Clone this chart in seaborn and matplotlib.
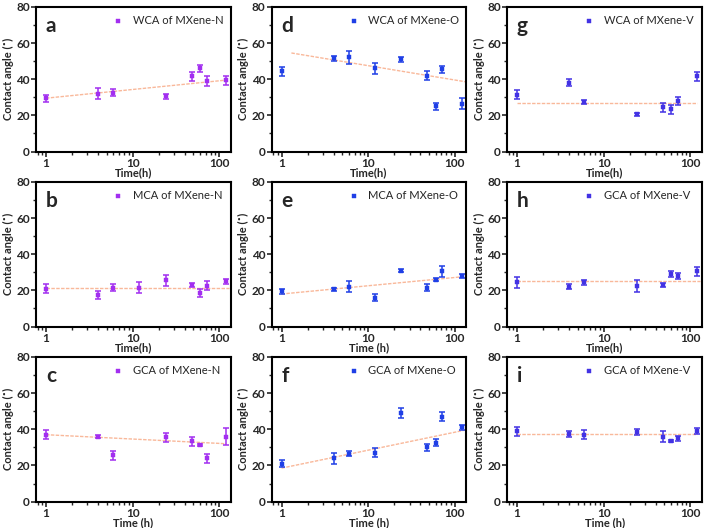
import numpy as np
import pandas as pd
import matplotlib
matplotlib.use("Agg")
import matplotlib.pyplot as plt
from matplotlib.ticker import MultipleLocator, LogLocator, NullFormatter, FixedLocator, FixedFormatter
import seaborn as sns

# -----------------------
# Data
# -----------------------
# time points in hours
t_all = [1, 4, 6, 12, 24, 48, 60, 72, 120]
t_no12 = [1, 4, 6, 24, 48, 60, 72, 120]

# MXene-N
wca_n = [29.5, 32, 32.5, 30.5, 41.5, 46, 39, 39.5]
wca_n_err = [2, 3, 2, 1.5, 2.5, 2, 3, 2.5]
mca_n = [21, 17.5, 21.5, 21.5, 25.5, 23, 18.5, 22.5, 25]
mca_n_err = [2.5, 2, 2, 3, 3, 1, 2, 2.5, 1.2]
gca_n = [37, 36, 25.5, 35.5, 33.5, 31.5, 24, 36]
gca_n_err = [2.5, 1, 2.5, 2.5, 2.5, 0.5, 2.5, 4.5]

# MXene-O
wca_o = [44.5, 51.5, 52, 46, 51, 42, 25, 45.5, 26.5]
wca_o_err = [2.5, 1.5, 3.5, 3, 1.5, 2.5, 2, 2, 3]
mca_o = [19.5, 20.5, 22, 16, 31, 21.5, 26, 30.5, 28]
mca_o_err = [1.5, 1, 3, 2, 1, 2, 1, 3, 1]
gca_o = [21, 24, 26.5, 27, 49, 30, 32.5, 47, 41]
gca_o_err = [2, 3, 1.5, 2.5, 2.5, 2, 2, 2.5, 1.5]

# MXene-V
wca_v = [31.5, 38, 27.5, 20.5, 24.5, 23.5, 28, 41.5]
wca_v_err = [2.5, 2, 1, 1, 2.5, 2.5, 2, 2.5]
gca_v1 = [24.5, 22, 24.5, 22.5, 23, 29, 28, 30.5]
gca_v1_err = [3, 1.5, 1.5, 3.5, 1, 1.5, 1.5, 2.5]
gca_v2 = [39, 37.5, 37, 38.5, 36, 33.5, 35, 39]
gca_v2_err = [2.5, 1.5, 2.5, 1.5, 3, 0.5, 1.5, 1.5]

# fitted trend lines (end points)
fit_a = ([1, 120], [29.5, 39.5])
fit_b = ([1, 130], [21.5, 21.5])
fit_c = ([1, 120], [37, 32])
fit_d = ([1.3, 136], [54.5, 38.5])
fit_e = ([1, 120], [18, 27.5])
fit_f = ([1, 130], [18.5, 39.5])
fit_g = ([1, 120], [27, 27])
fit_h = ([1, 130], [25, 25])
fit_i = ([1, 120], [37.5, 37.5])

c_n = "#A22EF0"
c_o = "#1F3FE6"
c_v = "#4232E4"
c_fit = "#F9B89A"

panels = [
    # letter, t, y, err, fit, label, color, xlabel
    ("a", t_no12, wca_n, wca_n_err, fit_a, "WCA of MXene-N", c_n, "Time(h)"),
    ("d", t_all, wca_o, wca_o_err, fit_d, "WCA of MXene-O", c_o, "Time(h)"),
    ("g", t_no12, wca_v, wca_v_err, fit_g, "WCA of MXene-V", c_v, "Time(h)"),
    ("b", t_all, mca_n, mca_n_err, fit_b, "MCA of MXene-N", c_n, "Time(h)"),
    ("e", t_all, mca_o, mca_o_err, fit_e, "MCA of MXene-O", c_o, "Time (h)"),
    ("h", t_no12, gca_v1, gca_v1_err, fit_h, "GCA of MXene-V", c_v, "Time(h)"),
    ("c", t_no12, gca_n, gca_n_err, fit_c, "GCA of MXene-N", c_n, "Time (h)"),
    ("f", t_all, gca_o, gca_o_err, fit_f, "GCA of MXene-O", c_o, "Time (h)"),
    ("i", t_no12, gca_v2, gca_v2_err, fit_i, "GCA of MXene-V", c_v, "Time (h)"),
]

# -----------------------
# Plot
# -----------------------
sns.set_theme(style="ticks")
plt.rcParams["font.family"] = ["Lato", "DejaVu Sans"]

fig, axes = plt.subplots(3, 3, figsize=(7.09, 5.28), dpi=100)
fig.subplots_adjust(left=0.051, right=0.990, top=0.987, bottom=0.05,
                    wspace=0.21, hspace=0.21)

for ax, (letter, t, y, err, fit, label, color, xlabel) in zip(axes.flatten(), panels):
    df = pd.DataFrame({"t": t, "y": y, "err": err})
    fdf = pd.DataFrame({"t": fit[0], "y": fit[1]})

    sns.lineplot(data=fdf, x="t", y="y", ax=ax, color=c_fit, lw=1.0,
                 linestyle=(0, (2.5, 1)), legend=False, zorder=1)
    ax.errorbar(df["t"], df["y"], yerr=df["err"], fmt="none", ecolor=color,
                elinewidth=1.1, capsize=2, capthick=1.1, zorder=2)
    sns.scatterplot(data=df, x="t", y="y", ax=ax, marker="s", s=9,
                    color=color, edgecolor=color, linewidth=0.3,
                    label=label, zorder=3)

    ax.set_xscale("log")
    ax.set_xlim(0.77, 136)
    ax.set_ylim(0, 80)
    ax.xaxis.set_major_locator(FixedLocator([1, 10, 100]))
    ax.xaxis.set_major_formatter(FixedFormatter(["1", "10", "100"]))
    ax.xaxis.set_minor_locator(LogLocator(base=10, subs=np.arange(2, 10)))
    ax.xaxis.set_minor_formatter(NullFormatter())
    ax.yaxis.set_major_locator(MultipleLocator(20))
    ax.yaxis.set_minor_locator(MultipleLocator(10))

    ax.tick_params(which="major", direction="out", length=3.5, width=1.2,
                   labelsize=8.5, pad=1)
    ax.tick_params(which="minor", direction="out", length=2, width=1.0)
    for lab in ax.get_xticklabels() + ax.get_yticklabels():
        lab.set_fontweight("bold")
    for sp in ax.spines.values():
        sp.set_linewidth(1.5)
        sp.set_color("black")

    ax.set_xlabel(xlabel, fontsize=8, fontweight="bold", labelpad=-1)
    ax.set_ylabel("Contact angle (\u02da)", fontsize=8, fontweight="bold",
                  labelpad=2)

    ax.text(0.05, 0.87, letter, transform=ax.transAxes, fontsize=15,
            fontweight="bold", va="center", ha="left")
    ax.legend(loc="upper left", bbox_to_anchor=(0.33, 0.99), frameon=False,
              fontsize=8, handletextpad=0.3, markerscale=0.9,
              borderaxespad=0.2)

plt.savefig("out.png", dpi=100)
plt.close()
